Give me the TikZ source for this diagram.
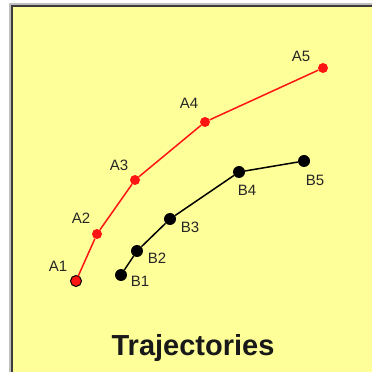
\documentclass[tikz,border=0pt]{standalone}
\usepackage{fontspec}
\setmainfont{Liberation Sans}
\usepackage{tikz}
\usetikzlibrary{arrows.meta}
\usepackage{xcolor}
\definecolor{panelyellow}{RGB}{255,255,153}
\definecolor{trackred}{RGB}{255,20,20}
\definecolor{framegray}{RGB}{60,60,60}

\begin{document}
\begin{tikzpicture}[x=1pt,y=1pt,
  adot/.style={circle,fill=trackred,inner sep=0pt,minimum size=10pt},
  bdot/.style={circle,fill=black,inner sep=0pt,minimum size=12pt},
  lbl/.style={font=\fontsize{15}{15}\selectfont,text=black!85,inner sep=0pt}]
\useasboundingbox (0,0) rectangle (372,372);
\fill[white] (0,0) rectangle (372,372);
\draw[black!25,line width=3pt] (10,-10)--(10,367)--(380,367);
\fill[panelyellow] (11.5,-10) rectangle (380,365.5);
\draw[framegray,line width=2pt] (11.5,-10)--(11.5,365.5)--(380,365.5);
% track A
\foreach \n/\px/\py in {1/76/91,2/97/138,3/135/192,4/205/250,5/323/304}
  \node[adot] (A\n) at (\px,\py) {};
\node[adot,draw=black,line width=1pt,minimum size=11pt] at (A1) {};
\draw[trackred,line width=1.5pt] (A1)--(A2)--(A3)--(A4)--(A5);
% track B
\foreach \n/\px/\py in {1/121/97,2/137/121,3/170/153,4/239/200,5/304/211}
  \node[bdot] (B\n) at (\px,\py) {};
\draw[black,line width=1.5pt] (B1)--(B2)--(B3)--(B4)--(B5);
% labels
\node[lbl] (lA1) at (58,106) {A1};
\node[lbl] (lA2) at (81,154) {A2};
\node[lbl] (lA3) at (119,207) {A3};
\node[lbl] (lA4) at (189,269) {A4};
\node[lbl] (lA5) at (301,316) {A5};
\node[lbl] (lB1) at (140,91) {B1};
\node[lbl] (lB2) at (157,114) {B2};
\node[lbl] (lB3) at (190,145) {B3};
\node[lbl] (lB4) at (247,182) {B4};
\node[lbl] (lB5) at (315,192) {B5};
\node[font=\fontsize{29}{29}\selectfont\bfseries,text=black!90] (title) at (193,24) {Trajectories};
\end{tikzpicture}
\end{document}
